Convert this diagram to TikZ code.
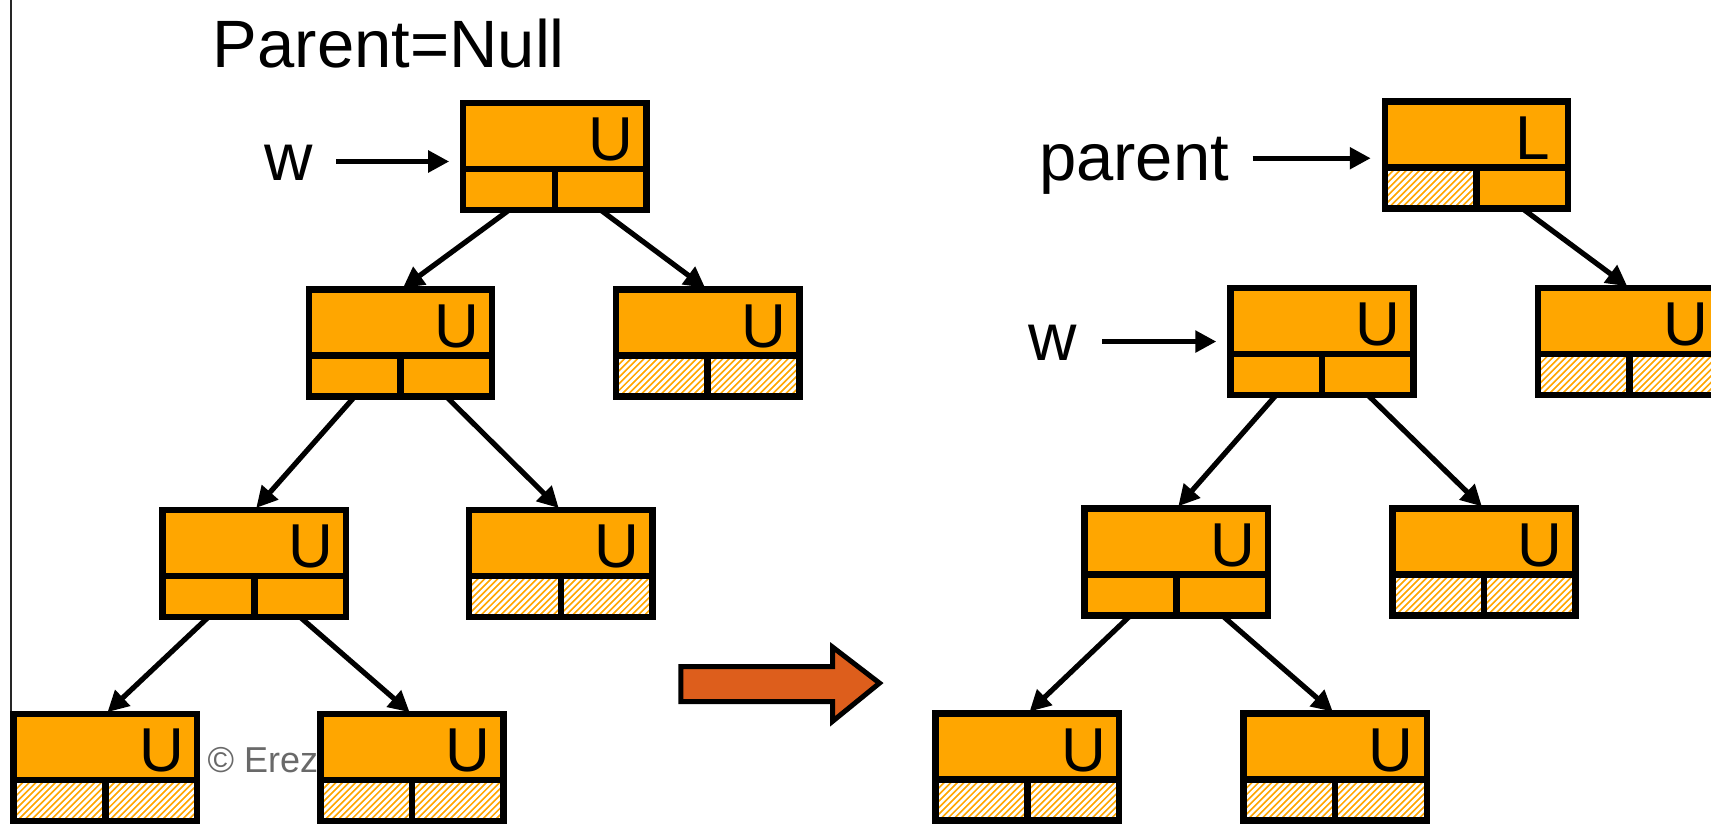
\documentclass[tikz,border=0pt]{standalone}
\usepackage{fontspec}
\setmainfont{Liberation Sans}
\usetikzlibrary{arrows.meta,calc}
\definecolor{boxorange}{RGB}{255,166,0}
\definecolor{bigarrowcol}{RGB}{221,94,28}
\definecolor{copygrey}{RGB}{105,105,105}

\tikzset{
  nodebox/.style={rectangle, minimum width=183.3pt, minimum height=106.9pt, inner sep=0pt, outer sep=0pt, fill=boxorange},
  boxline/.style={line width=6.5pt, line join=miter, line cap=rect},
  letterlab/.style={inner sep=0pt, font=\fontsize{62}{62}\selectfont},
  bigtext/.style={inner sep=0pt, font=\fontsize{67}{67}\selectfont},
  copytext/.style={inner sep=0pt, text=copygrey, font=\fontsize{36}{36}\selectfont},
  edge/.style={line width=5.2pt, -{Triangle[length=21pt,width=21pt]}, shorten >=3pt},
  ptr/.style={line width=5.2pt, -{Triangle[length=21pt,width=21pt]}, shorten >=14pt},
}

\newcommand\hatchcell[4]{%
  \begin{scope}
    \clip (#1,#2) rectangle (#3,#4);
    \fill[boxorange] (#1,#2) rectangle (#3,#4);
    \foreach \k in {-48,-42,...,96}{%
      \pgfmathsetmacro\hx{#1+\k}%
      \draw[white, line width=2.7pt] (\hx,#4) -- ++(60,-60);}
  \end{scope}}

\newcommand\treenode[6]{%
  \node[nodebox] (#1) at (#2,#3) {};
  \pgfmathsetmacro\xa{#2-84}\pgfmathsetmacro\xb{#2+84}%
  \pgfmathsetmacro\yd{#3+11.5}\pgfmathsetmacro\yb{#3+49}%
  \pgfmathsetmacro\lx{#2+51.5}\pgfmathsetmacro\ly{#3-15.5}%
  \ifnum#5=1 \hatchcell{\xa}{\yd}{#2}{\yb}\fi
  \ifnum#6=1 \hatchcell{#2}{\yd}{\xb}{\yb}\fi
  \draw[boxline] (\xa,\yd) -- (\xb,\yd);
  \draw[boxline] (#1.south) -- (#2,\yd);
  \draw[boxline] (#1.south west) rectangle (#1.north east);
  \node[letterlab] (#1-lab) at (\lx,\ly) {#4};
}

\begin{document}
\begin{tikzpicture}[x=1.0912pt, y=-1.0912pt]
\useasboundingbox (0,0) rectangle (1568,755);
\clip (0,0) rectangle (1568,755);
\fill[white] (0,0) rectangle (1568,755);

% left frame line
\draw[line width=1.4pt, black!85] (10,0) -- (10,755);

% texts
\node[bigtext, anchor=base west] (title) at (195,62) {Parent=Null};
\node[bigtext, anchor=base] (w1) at (265,165) {w};
\node[bigtext, anchor=base west] (ptext) at (952,165) {parent};
\node[bigtext, anchor=base] (w2) at (965,330) {w};
\node[copytext, anchor=base west] (copy) at (190,708) {© Erez Petrank};

% left tree
\treenode{A}{508.5}{143.5}{U}{0}{0}
\treenode{B}{367}{314.5}{U}{0}{0}
\treenode{C}{648.5}{314.5}{U}{1}{1}
\treenode{D}{233}{516.5}{U}{0}{0}
\treenode{E}{514}{516.5}{U}{1}{1}
\treenode{F}{96.5}{703.5}{U}{1}{1}
\treenode{G}{377.5}{703.5}{U}{1}{1}

% right tree
\treenode{P}{1353}{142}{L}{1}{0}
\treenode{W}{1211.5}{313}{U}{0}{0}
\treenode{R}{1493.5}{313}{U}{1}{1}
\treenode{H}{1078}{515}{U}{0}{0}
\treenode{I}{1360}{515}{U}{1}{1}
\treenode{J}{941.5}{703}{U}{1}{1}
\treenode{K}{1223.5}{703}{U}{1}{1}

% tree edges
\draw[edge] ($(A.south west)!0.25!(A.south east)$) -- (B.north);
\draw[edge] ($(A.south west)!0.75!(A.south east)$) -- (C.north);
\draw[edge] ($(B.south west)!0.25!(B.south east)$) -- (D.north);
\draw[edge] ($(B.south west)!0.75!(B.south east)$) -- (E.north);
\draw[edge] ($(D.south west)!0.25!(D.south east)$) -- (F.north);
\draw[edge] ($(D.south west)!0.75!(D.south east)$) -- (G.north);
\draw[edge] ($(P.south west)!0.75!(P.south east)$) -- (R.north);
\draw[edge] ($(W.south west)!0.25!(W.south east)$) -- (H.north);
\draw[edge] ($(W.south west)!0.75!(W.south east)$) -- (I.north);
\draw[edge] ($(H.south west)!0.25!(H.south east)$) -- (J.north);
\draw[edge] ($(H.south west)!0.75!(H.south east)$) -- (K.north);

% pointer arrows
\coordinate (w1t) at (308,148);
\draw[ptr] (w1t) -- (w1t -| A.west);
\coordinate (pt) at (1148,145);
\draw[ptr] (pt) -- (pt -| P.west);
\coordinate (w2t) at (1010,313);
\draw[ptr] (w2t) -- (w2t -| W.west);

% big transition arrow
\draw[line width=5pt, line join=miter, fill=bigarrowcol]
  (624,611) -- (763,611) -- (763,593) -- (806,626) -- (763,661) -- (763,643) -- (624,643) -- cycle;
\end{tikzpicture}
\end{document}
